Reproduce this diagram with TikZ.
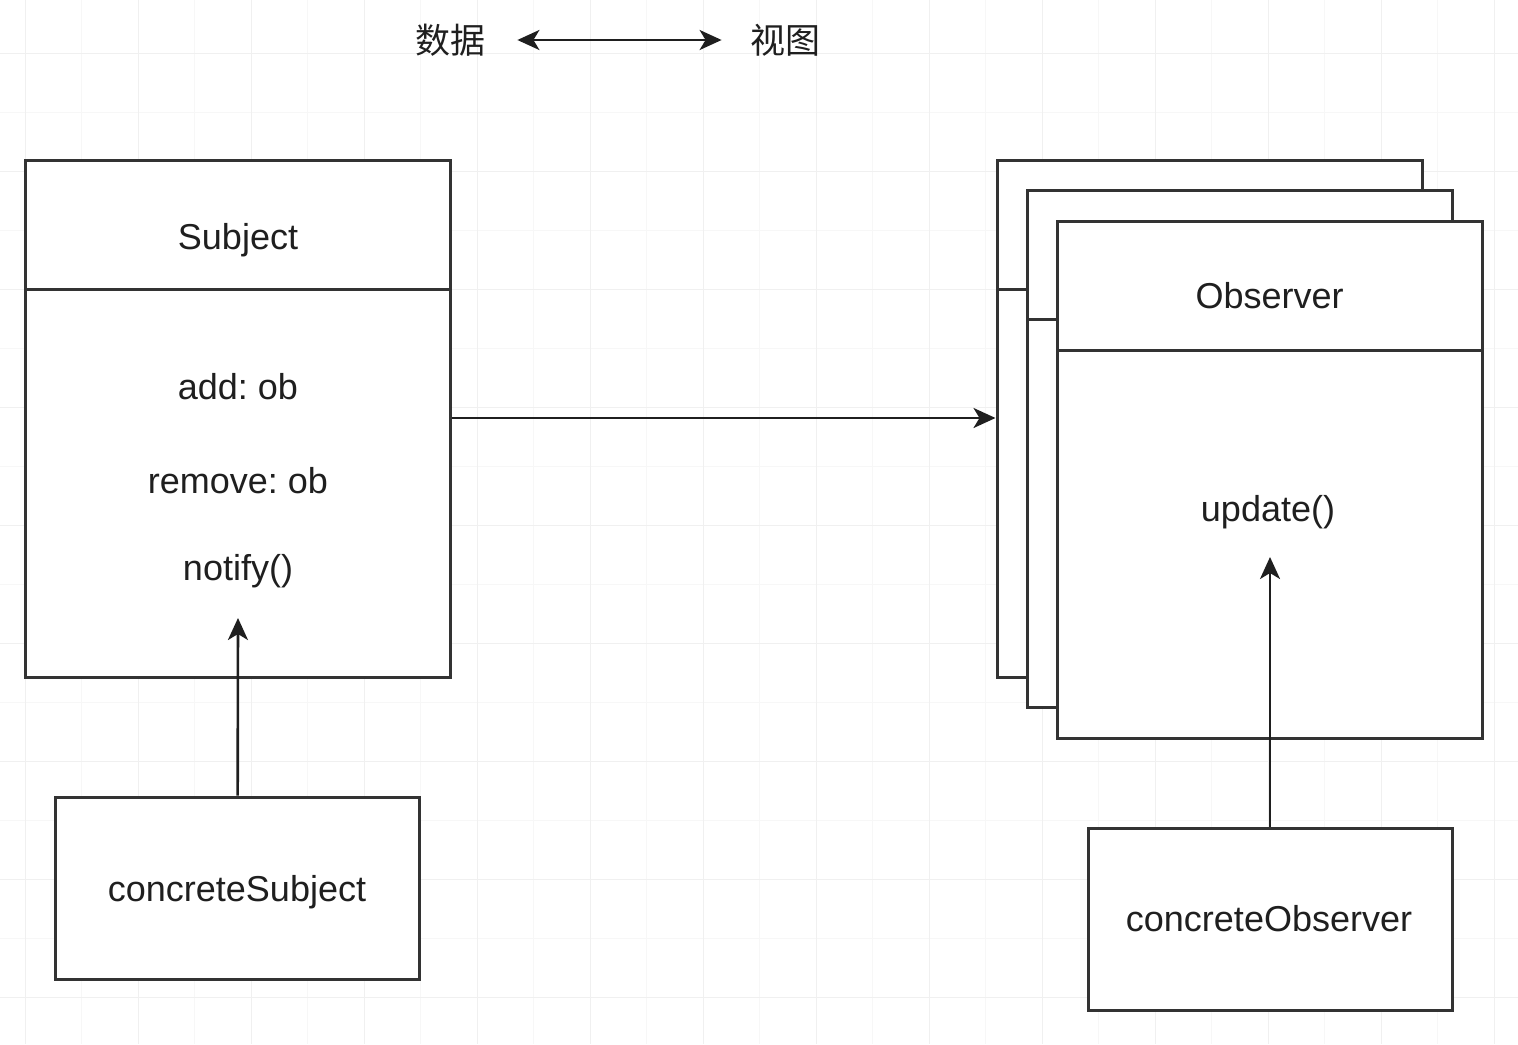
\documentclass[tikz,border=0pt]{standalone}
\usepackage{fontspec}
\setmainfont{Liberation Sans}
\newfontfamily\cjk{Noto Sans CJK SC}
\usetikzlibrary{arrows.meta}
\frenchspacing

\begin{document}
\begin{tikzpicture}[x=0.5pt,y=-0.5pt]
	\tikzstyle{box}=[draw=black!80,line width=1.5pt,fill=white,inner sep=0pt]
	\tikzstyle{head}=[box,minimum width=212.5pt,minimum height=64.5pt]
	\tikzstyle{body}=[box,minimum width=212.5pt,minimum height=194pt]
	\tikzstyle{leaf}=[box,minimum width=182pt,minimum height=91pt]
	\tikzstyle{lbl}=[inner sep=0pt,anchor=base,text=black!88,font=\fontsize{18}{22}\selectfont]
	\tikzstyle{arr}=[draw=black!88,line width=1.3pt,-{Stealth[length=11pt,width=10pt,inset=3pt]}]
	\useasboundingbox (0,0) rectangle (1518,1044);
	% faint grid
	\foreach \gx in {25,81.5,...,1518} \draw[black!3] (\gx,0) -- (\gx,1044);
	\foreach \gy in {53,112,...,1044} \draw[black!3] (0,\gy) -- (1518,\gy);
	\foreach \gx in {25,138,...,1518} \draw[black!6] (\gx,0) -- (\gx,1044);
	\foreach \gy in {53,171,...,1044} \draw[black!6] (0,\gy) -- (1518,\gy);
	% top caption
	\node[inner sep=0pt,text=black!88,font=\cjk\fontsize{17.5}{20}\selectfont] (data) at (450,40) {数据};
	\node[inner sep=0pt,text=black!88,font=\cjk\fontsize{17.5}{20}\selectfont] (view) at (785,40) {视图};
	\draw[arr,{Stealth[length=11pt,width=10pt,inset=3pt]}-{Stealth[length=11pt,width=10pt,inset=3pt]},shorten <=16pt,shorten >=14pt] (data) -- (view);
	% subject
	\node[head] (subjhead) at (238,224.5) {};
	\node[body] (subjbody) at (238,483) {};
	\node[lbl] (subjname) at (238,249) {Subject};
	\node[lbl] (subjadd) at (238,399) {add: ob};
	\node[lbl] (subjrm) at (238,493) {remove: ob};
	\node[lbl] (subjnt) at (238,580) {notify()};
	% observers, back to front
	\foreach \i/\dx/\dy in {1/0/0,2/30/30,3/60/61} {
		\node[head] (obshead\i) at (1209.5+\dx,224.5+\dy) {};
		\node[body] (obsbody\i) at (1209.5+\dx,483+\dy) {};
	}
	\node[lbl] (obsname) at (1269.5,308) {Observer};
	\node[lbl] (obsup) at (1268,521) {update()};
	% concrete classes
	\node[leaf] (csubj) at (237.5,888) {};
	\node[lbl] (csubjname) at (237,901) {concreteSubject};
	\node[leaf] (cobs) at (1270,919) {};
	\node[lbl] (cobsname) at (1269,931) {concreteObserver};
	\coordinate (subjin) at (238,618);
	\coordinate (obsin) at (1270,557);
	\draw[arr] ([yshift=32.5pt]subjbody.east) -- ([yshift=32.5pt]obsbody1.west);
	\draw[arr] (csubj) -- (subjin);
	\draw[arr] (cobs) -- (obsin);
\end{tikzpicture}
\end{document}
